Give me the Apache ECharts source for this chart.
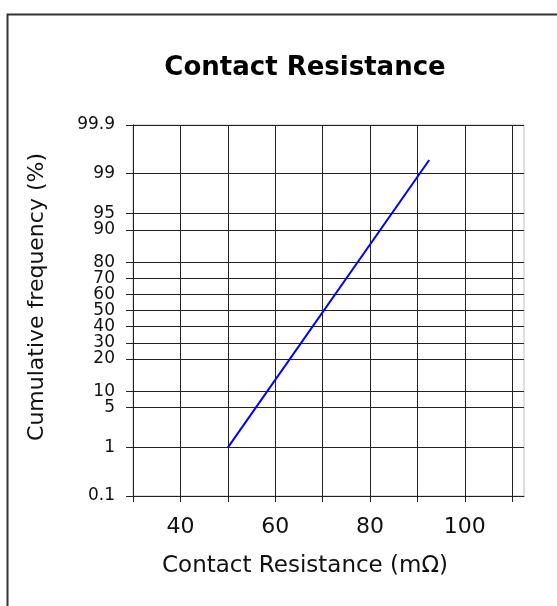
<!DOCTYPE html>
<html>
<head>
<meta charset="utf-8">
<script src="https://cdn.jsdelivr.net/npm/echarts@6/dist/echarts.min.js"></script>
<style>html,body{margin:0;padding:0;background:#fff}#c{width:557px;height:606px}</style>
</head>
<body>
<div id="c"></div>
<script>
// Probability-scale tick labels and their positions on the (non-linear) y scale
const yTickLabels = ['0.1','1','5','10','20','30','40','50','60','70','80','90','95','99','99.9'];
const yTickPercents = [0.1,1,5,10,20,30,40,50,60,70,80,90,95,99,99.9];
const yTickPositions = [-11.5,-8.5,-6,-5,-3,-2,-1,0,1,2,3,5,6,8.5,11.5];
// X axis ticks / labels
const xTicks = [30,40,50,60,70,80,90,100,110];
const xLabels = [40,60,80,100];
// Series: contact resistance (mΩ) vs cumulative frequency (%)
const resistance = [50, 92.5];
const cumFreq = [1, 99.25];

function pctToPos(p){
  for(let i=0;i<yTickPercents.length-1;i++){
    const a=yTickPercents[i], b=yTickPercents[i+1];
    if(p>=a && p<=b){
      return yTickPositions[i]+(p-a)/(b-a)*(yTickPositions[i+1]-yTickPositions[i]);
    }
  }
  return p<yTickPercents[0]?yTickPositions[0]:yTickPositions[yTickPositions.length-1];
}
const lineData = resistance.map((x,i)=>[x,pctToPos(cumFreq[i])]);

const font = 'DejaVu Sans';
const chart = echarts.init(document.getElementById('c'));
chart.setOption({
  animation:false,
  backgroundColor:'#fff',
  grid:{left:133,right:33,top:125,bottom:110,show:true,borderColor:'#bbb',borderWidth:1,backgroundColor:'transparent'},
  xAxis:{
    type:'value',min:30,max:112.5,
    axisLine:{show:true,onZero:false,lineStyle:{color:'#222',width:1}},
    axisTick:{show:true,length:6,customValues:xTicks,lineStyle:{color:'#222'}},
    axisLabel:{customValues:xLabels,margin:20,fontFamily:font,fontSize:22,color:'#111'},
    splitLine:{show:true,lineStyle:{color:'#222',width:1}}
  },
  yAxis:{
    type:'value',min:-11.5,max:11.5,
    axisLine:{show:true,onZero:false,lineStyle:{color:'#222',width:1}},
    axisTick:{show:true,length:7,customValues:yTickPositions,lineStyle:{color:'#222'}},
    axisLabel:{customValues:yTickPositions,margin:18,fontFamily:font,fontSize:17,color:'#111',
      formatter:function(v){const i=yTickPositions.findIndex(p=>Math.abs(p-v)<1e-6);return i>=0?yTickLabels[i]:'';}},
    splitLine:{show:true,lineStyle:{color:'#222',width:1}}
  },
  series:[{
    type:'line',data:lineData,symbol:'none',
    lineStyle:{color:'#0000ff',width:2}
  }],
  graphic:[
    {type:'rect',left:5,top:12,shape:{width:600,height:600},style:{fill:'none',stroke:'#333',lineWidth:2},silent:true},
    {type:'text',x:305,y:68,style:{text:'Contact Resistance',fontFamily:font,fontWeight:'bold',fontSize:26,fill:'#000',align:'center',verticalAlign:'middle'}},
    {type:'text',x:305,y:566,style:{text:'Contact Resistance (m\u03A9)',fontFamily:font,fontSize:23,fill:'#111',align:'center',verticalAlign:'middle'}},
    {type:'text',x:37,y:297,rotation:Math.PI/2,style:{text:'Cumulative frequency (%)',fontFamily:font,fontSize:22,fill:'#111',align:'center',verticalAlign:'middle'}}
  ]
});
</script>
</body>
</html>
